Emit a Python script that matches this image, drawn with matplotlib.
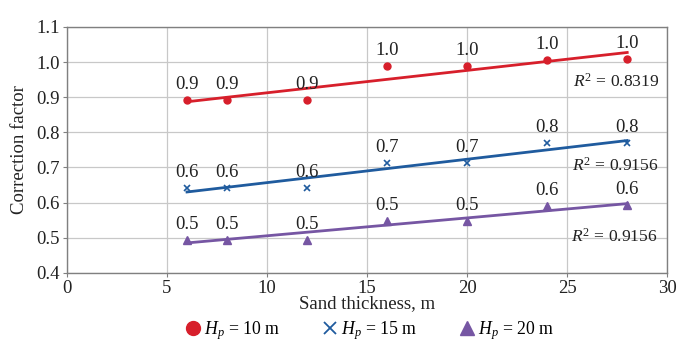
"""Correction factor vs sand thickness for three Hp values, with linear trends."""

import numpy as np
import matplotlib.pyplot as plt
from matplotlib.lines import Line2D

# ─── data ─────────────────────────────────────────────────────────────────────
SAND_THICKNESS = [6, 8, 12, 16, 20, 24, 28]
CF_HP10 = [0.892, 0.892, 0.892, 0.989, 0.989, 1.006, 1.008]
CF_HP15 = [0.643, 0.643, 0.643, 0.712, 0.712, 0.769, 0.769]
CF_HP20 = [0.495, 0.495, 0.495, 0.548, 0.548, 0.590, 0.592]
R2_LABELS = ["0.8319", "0.9156", "0.9156"]
SERIES_NAMES = ["$H_p$ = 10 m", "$H_p$ = 15 m", "$H_p$ = 20 m"]

COLORS = ["#d71f2b", "#1f5b9e", "#7656a3"]
MARKERS = ["o", "x", "^"]
MSIZES = [5, 4, 5.5]
R2_POS = [(25.3, 0.944), (25.25, 0.704), (25.2, 0.502)]

plt.rcParams.update({
    'font.family': ['Liberation Serif', 'DejaVu Serif'],
    'mathtext.fontset': 'custom',
    'mathtext.rm': 'Liberation Serif',
    'mathtext.it': 'Liberation Serif:italic',
    'font.size': 12,
})

fig = plt.figure(figsize=(6.9, 3.45), dpi=100)
ax = fig.add_axes([0.097, 0.209, 0.870, 0.713])

x = np.array(SAND_THICKNESS, dtype=float)
for ys, c, m, ms, r2, pos in zip((CF_HP10, CF_HP15, CF_HP20), COLORS, MARKERS,
                                  MSIZES, R2_LABELS, R2_POS):
    ys = np.array(ys)
    k, b = np.polyfit(x, ys, 1)
    xx = np.array([x.min(), x.max()])
    ax.plot(xx, k * xx + b, color=c, lw=2.0, zorder=3)
    if m == "x":
        ax.plot(x, ys, ls='none', marker=m, ms=ms, mew=1.2, color=c, zorder=4)
    else:
        ax.plot(x, ys, ls='none', marker=m, ms=ms, color=c, zorder=4)
    for xi, yi in zip(x, ys):
        ax.annotate(f"{yi:.1f}", (xi, yi), xytext=(0, 5), textcoords='offset points',
                    ha='center', va='bottom', fontsize=13.5, color='#222222')
    ax.text(pos[0], pos[1], f"$R^2$ = {r2}", ha='left', va='center',
            fontsize=12.6, color='#222222')

ax.set_xlim(0, 30)
ax.set_ylim(0.4, 1.1)
ax.set_xticks(np.arange(0, 31, 5))
ax.set_yticks(np.arange(0.4, 1.101, 0.1))
ax.set_yticklabels([f"{v:.1f}" for v in np.arange(0.4, 1.101, 0.1)])
ax.grid(True, color='#c8c8c8', lw=0.9)
ax.set_axisbelow(True)
for s in ax.spines.values():
    s.set_color('#808080')
    s.set_linewidth(1.0)
ax.tick_params(length=3, color='#808080', labelsize=13.5, pad=2, labelcolor='#222222')

ax.set_xlabel("Sand thickness, m", fontsize=13.5, labelpad=-1, color='#222222')
ax.set_ylabel("Correction factor", fontsize=13.5, labelpad=6, color='#222222')

handles = []
for c, m, name in zip(COLORS, MARKERS, SERIES_NAMES):
    if m == "x":
        h = Line2D([], [], ls='none', marker=m, ms=8, mew=1.3, color=c, label=name)
    else:
        h = Line2D([], [], ls='none', marker=m, ms=10, color=c, label=name)
    handles.append(h)
fig.legend(handles=handles, loc='center', bbox_to_anchor=(0.535, 0.042), ncol=3,
           frameon=False, fontsize=12.8, handletextpad=0.1, columnspacing=2.3,
           handlelength=1.0, borderpad=0.2)

fig.savefig("out.png", dpi=100)
